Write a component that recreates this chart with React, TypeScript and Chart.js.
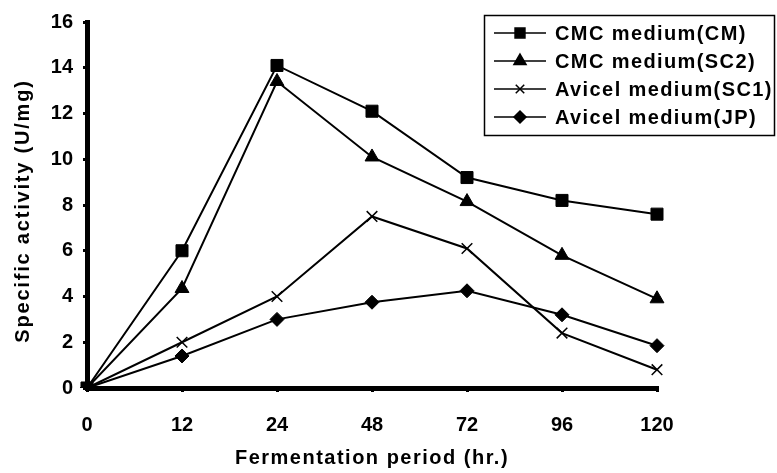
import React, { useEffect, useRef } from 'react';
import { Chart, registerables } from 'chart.js';
import * as helpers from 'chart.js/helpers';

Chart.register(...registerables);

const hours = ['0', '12', '24', '48', '72', '96', '120'];
const cmcCM = [0, 6.0, 14.1, 12.1, 9.2, 8.2, 7.6];
const cmcSC2 = [0, 4.35, 13.4, 10.1, 8.15, 5.8, 3.9];
const avicelSC1 = [0, 2.0, 4.0, 7.5, 6.1, 2.4, 0.8];
const avicelJP = [0, 1.4, 3.0, 3.75, 4.25, 3.2, 1.85];
const seriesNames = ['CMC medium(CM)', 'CMC medium(SC2)', 'Avicel medium(SC1)', 'Avicel medium(JP)'];
const yTicks = [0, 2, 4, 6, 8, 10, 12, 14, 16];
const xTitle = 'Fermentation period (hr.)';
const yTitle = 'Specific activity (U/mg)';

const FONT = "'Liberation Sans', Arial, sans-serif";
const styles = [
  { pointStyle: 'rect', radius: 8.5, legendRadius: 7 },
  { pointStyle: 'triangle', radius: 8, legendRadius: 7 },
  { pointStyle: 'crossRot', radius: 7.5, legendRadius: 6 },
  { pointStyle: 'rectRot', radius: 7, legendRadius: 6 },
];

const overlayPlugin = {
  id: 'overlay',
  afterDraw(chart: any) {
    const ctx = chart.ctx;
    const area = chart.chartArea;
    ctx.save();
    // axis titles
    ctx.fillStyle = '#000';
    ctx.font = `bold 20px ${FONT}`;
    (ctx as any).letterSpacing = '1.5px';
    ctx.textAlign = 'center';
    ctx.textBaseline = 'middle';
    ctx.fillText(xTitle, (area.left + area.right) / 2, 458);
    ctx.save();
    ctx.translate(23, 211);
    ctx.rotate(-Math.PI / 2);
    (ctx as any).letterSpacing = '1.8px';
    ctx.fillText(yTitle, 0, 0);
    ctx.restore();

    // legend
    ctx.strokeStyle = '#000';
    ctx.lineWidth = 1.5;
    ctx.strokeRect(484.5, 15.5, 290, 120);
    seriesNames.forEach((name, i) => {
      const y = 33 + i * 28;
      ctx.beginPath();
      ctx.lineWidth = 1.5;
      ctx.strokeStyle = '#000';
      ctx.moveTo(494, y);
      ctx.lineTo(546, y);
      ctx.stroke();
      ctx.fillStyle = '#000';
      helpers.drawPoint(ctx, { pointStyle: styles[i].pointStyle, radius: styles[i].legendRadius, rotation: 0, borderWidth: 1.5 }, 520, y);
      ctx.font = `bold 20px ${FONT}`;
      (ctx as any).letterSpacing = '1.4px';
      ctx.textBaseline = 'middle';
      ctx.textAlign = 'left';
      ctx.fillStyle = '#000';
      ctx.fillText(name, 555, y + 1);
    });
    ctx.restore();
  },
};

export default function App() {
  const ref = useRef<HTMLCanvasElement>(null);
  useEffect(() => {
    const data = [cmcCM, cmcSC2, avicelSC1, avicelJP];
    const chart = new Chart(ref.current as HTMLCanvasElement, {
      type: 'line',
      data: {
        labels: hours,
        datasets: data.map((d, i) => ({
          label: seriesNames[i],
          data: d,
          borderColor: '#000',
          backgroundColor: '#000',
          borderWidth: 2,
          pointStyle: styles[i].pointStyle as any,
          pointRadius: styles[i].radius,
          pointBorderWidth: i === 2 ? 1.5 : 1,
          pointBackgroundColor: '#000',
          pointBorderColor: '#000',
          tension: 0,
        })),
      },
      options: {
        responsive: false,
        animation: false,
        layout: { padding: { top: 20, right: 120, left: 0, bottom: 0 } },
        plugins: { legend: { display: false }, tooltip: { enabled: false } },
        scales: {
          x: {
            type: 'category',
            offset: false,
            afterFit: (s: any) => { s.height = 85; },
            border: { display: true, color: '#000', width: 5 },
            grid: { display: true, drawOnChartArea: false, drawTicks: true, tickLength: 4, lineWidth: 3, color: '#000' },
            ticks: { color: '#000', font: { family: FONT, size: 20, weight: 'bold' }, padding: 21, maxRotation: 0 },
            title: { display: false },
          },
          y: {
            min: 0,
            max: 16,
            afterFit: (s: any) => { s.width = 87; },
            afterBuildTicks: (s: any) => { s.ticks = yTicks.map((v) => ({ value: v })); },
            border: { display: true, color: '#000', width: 5 },
            grid: { display: true, drawOnChartArea: false, drawTicks: true, tickLength: 4, lineWidth: 3, color: '#000' },
            ticks: { color: '#000', font: { family: FONT, size: 20, weight: 'bold' }, padding: 10 },
            title: { display: false },
          },
        },
      },
      plugins: [overlayPlugin],
    });
    return () => chart.destroy();
  }, []);
  return (
    <div style={{ position: 'fixed', left: 0, top: 0, width: 777, height: 473, background: '#fff' }}>
      <canvas ref={ref} width={777} height={473} style={{ display: 'block' }} />
    </div>
  );
}
